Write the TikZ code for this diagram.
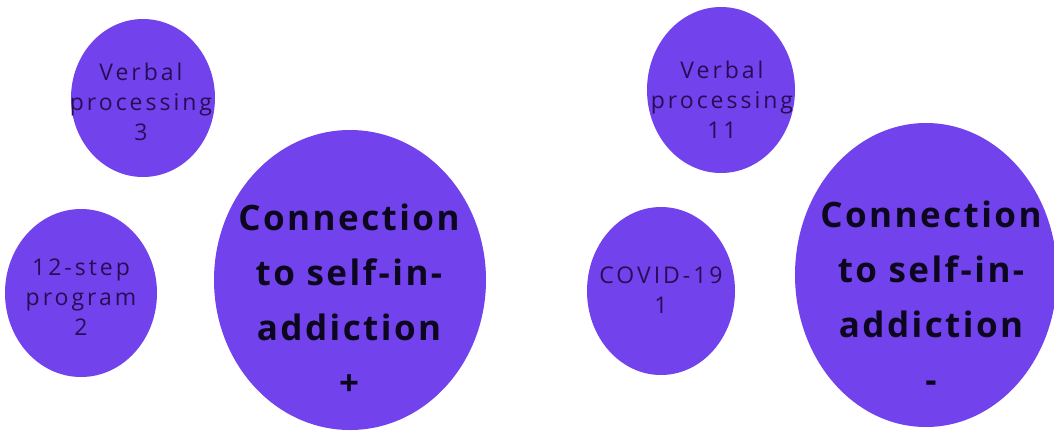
\documentclass[tikz,border=0pt]{standalone}
\usepackage{fontspec}
\setmainfont{Open Sans}
\newfontfamily\smallface[LetterSpace=13]{Open Sans}
\newfontfamily\bigface[LetterSpace=7]{Open Sans}
\definecolor{bubble}{RGB}{114,66,236}
\definecolor{smallink}{RGB}{38,14,84}
\definecolor{bigink}{RGB}{12,6,30}
\tikzset{
  bubblenode/.style={ellipse, fill=bubble, draw=none, inner sep=0pt},
  smalltext/.style={align=center, text=smallink, inner sep=0pt,
    font=\smallface\fontsize{23}{30}\selectfont},
  bigtext/.style={align=center, text=bigink, inner sep=0pt,
    font=\bigface\bfseries\fontsize{35}{55}\selectfont},
}
\usetikzlibrary{shapes.geometric}
\begin{document}
\begin{tikzpicture}[x=1pt,y=-1pt]
\useasboundingbox (0,0) rectangle (1054,432);
\fill[white] (0,0) rectangle (1054,432);
% left group
\node[bubblenode, minimum width=144pt, minimum height=158pt] (vp3) at (143,98) {};
\node[bubblenode, minimum width=152pt, minimum height=168pt] (step12) at (81,293) {};
\node[bubblenode, minimum width=272pt, minimum height=300pt] (selfplus) at (350,280) {};
\node[smalltext] (vp3t) at (141,102) {Verbal\\processing\\3};
\node[smalltext] (step12t) at (81,297) {12-step\\program\\2};
\node[bigtext] (selfplust) at (349,300) {Connection\\to self-in-\\addiction\\+};
% right group
\node[bubblenode, minimum width=148pt, minimum height=166pt] (vp11) at (721,90) {};
\node[bubblenode, minimum width=148pt, minimum height=168pt] (covid) at (661,291) {};
\node[bubblenode, minimum width=262pt, minimum height=304pt] (selfminus) at (926,275) {};
\node[smalltext] (vp11t) at (722,100) {Verbal\\processing\\11};
\node[smalltext] (covidt) at (661,290) {COVID-19\\1};
\node[bigtext] (selfminust) at (931,297) {Connection\\to self-in-\\addiction\\-};
\end{tikzpicture}
\end{document}
